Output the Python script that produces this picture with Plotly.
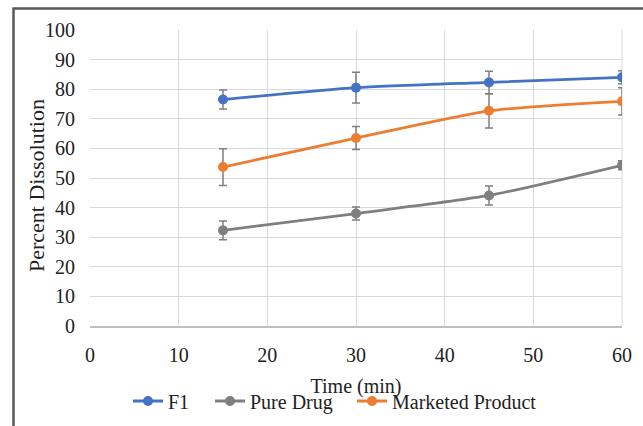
import plotly.graph_objects as go

time_min = [15, 30, 45, 60]
f1 = [76.5, 80.5, 82.3, 84.0]
f1_err = [3.2, 5.2, 3.8, 2.2]
pure_drug = [32.3, 38.0, 44.1, 54.3]
pure_err = [3.2, 2.2, 3.2, 1.5]
marketed = [53.7, 63.5, 72.7, 75.9]
marketed_err = [6.2, 3.9, 5.8, 4.6]

x_ticks = [0, 10, 20, 30, 40, 50, 60]
y_ticks = [0, 10, 20, 30, 40, 50, 60, 70, 80, 90, 100]

series = [
    ("F1", f1, f1_err, "#4472C4", "legend"),
    ("Pure Drug", pure_drug, pure_err, "#7F7F7F", "legend2"),
    ("Marketed Product", marketed, marketed_err, "#ED7D31", "legend3"),
]

fig = go.Figure()
for name, vals, errs, color, lg in series:
    fig.add_trace(go.Scatter(
        x=time_min, y=vals, name=name, mode="lines+markers", legend=lg,
        line=dict(color=color, width=2.8, shape="spline", smoothing=0.6),
        marker=dict(color=color, size=10),
        error_y=dict(type="data", array=errs, visible=True,
                     color="#7F7F7F", thickness=1.5, width=4),
    ))

font_family = "Liberation Serif"
L, T, W, H = 90, 30, 532, 296


def px_x(p):
    return (p - L) / W


def px_y(p):
    return 1 - (p - T) / H


def legend_at(xpix):
    return dict(orientation="h", x=px_x(xpix), xanchor="left", y=px_y(401), yanchor="middle",
                font=dict(size=20, family=font_family, color="#222222"),
                bgcolor="rgba(0,0,0,0)", itemwidth=30)


fig.update_layout(
    width=643, height=426,
    margin=dict(l=L, r=643 - L - W, t=T, b=426 - T - H, autoexpand=False),
    paper_bgcolor="white", plot_bgcolor="white",
    font=dict(family=font_family, size=20, color="#222222"),
    showlegend=True,
    legend=legend_at(128),
    legend2=legend_at(210),
    legend3=legend_at(352),
    xaxis=dict(range=[0, 60], tickvals=x_ticks, showgrid=True, gridcolor="#D9D9D9",
               gridwidth=1, zeroline=False, showline=True, linecolor="#BFBFBF", linewidth=1.5,
               ticks="", ticklabelstandoff=10, tickfont=dict(size=20, family=font_family),
               title=dict(text="Time (min)", font=dict(size=20, family=font_family), standoff=14)),
    yaxis=dict(range=[0, 100], tickvals=y_ticks, showgrid=True, gridcolor="#D9D9D9",
               gridwidth=1, zeroline=False, showline=False, ticks="", ticklabelstandoff=14,
               tickfont=dict(size=20, family=font_family)),
    annotations=[
        dict(text="Percent Dissolution", xref="paper", yref="paper",
             x=px_x(37), y=px_y(186), xanchor="center", yanchor="middle",
             textangle=-90, showarrow=False,
             font=dict(size=22, family=font_family, color="#222222")),
    ],
    shapes=[
        dict(type="line", xref="paper", yref="paper", x0=1, x1=1, y0=0, y1=1,
             line=dict(color="#D9D9D9", width=1), layer="below"),
        dict(type="rect", xref="paper", yref="paper",
             x0=px_x(13.5), x1=1.2, y0=-0.5, y1=px_y(8.5),
             line=dict(color="#595959", width=2.5), fillcolor="rgba(0,0,0,0)"),
    ],
)

fig.write_html("out.html", config={"displayModeBar": False},
               post_script="document.body.style.margin='0';")
